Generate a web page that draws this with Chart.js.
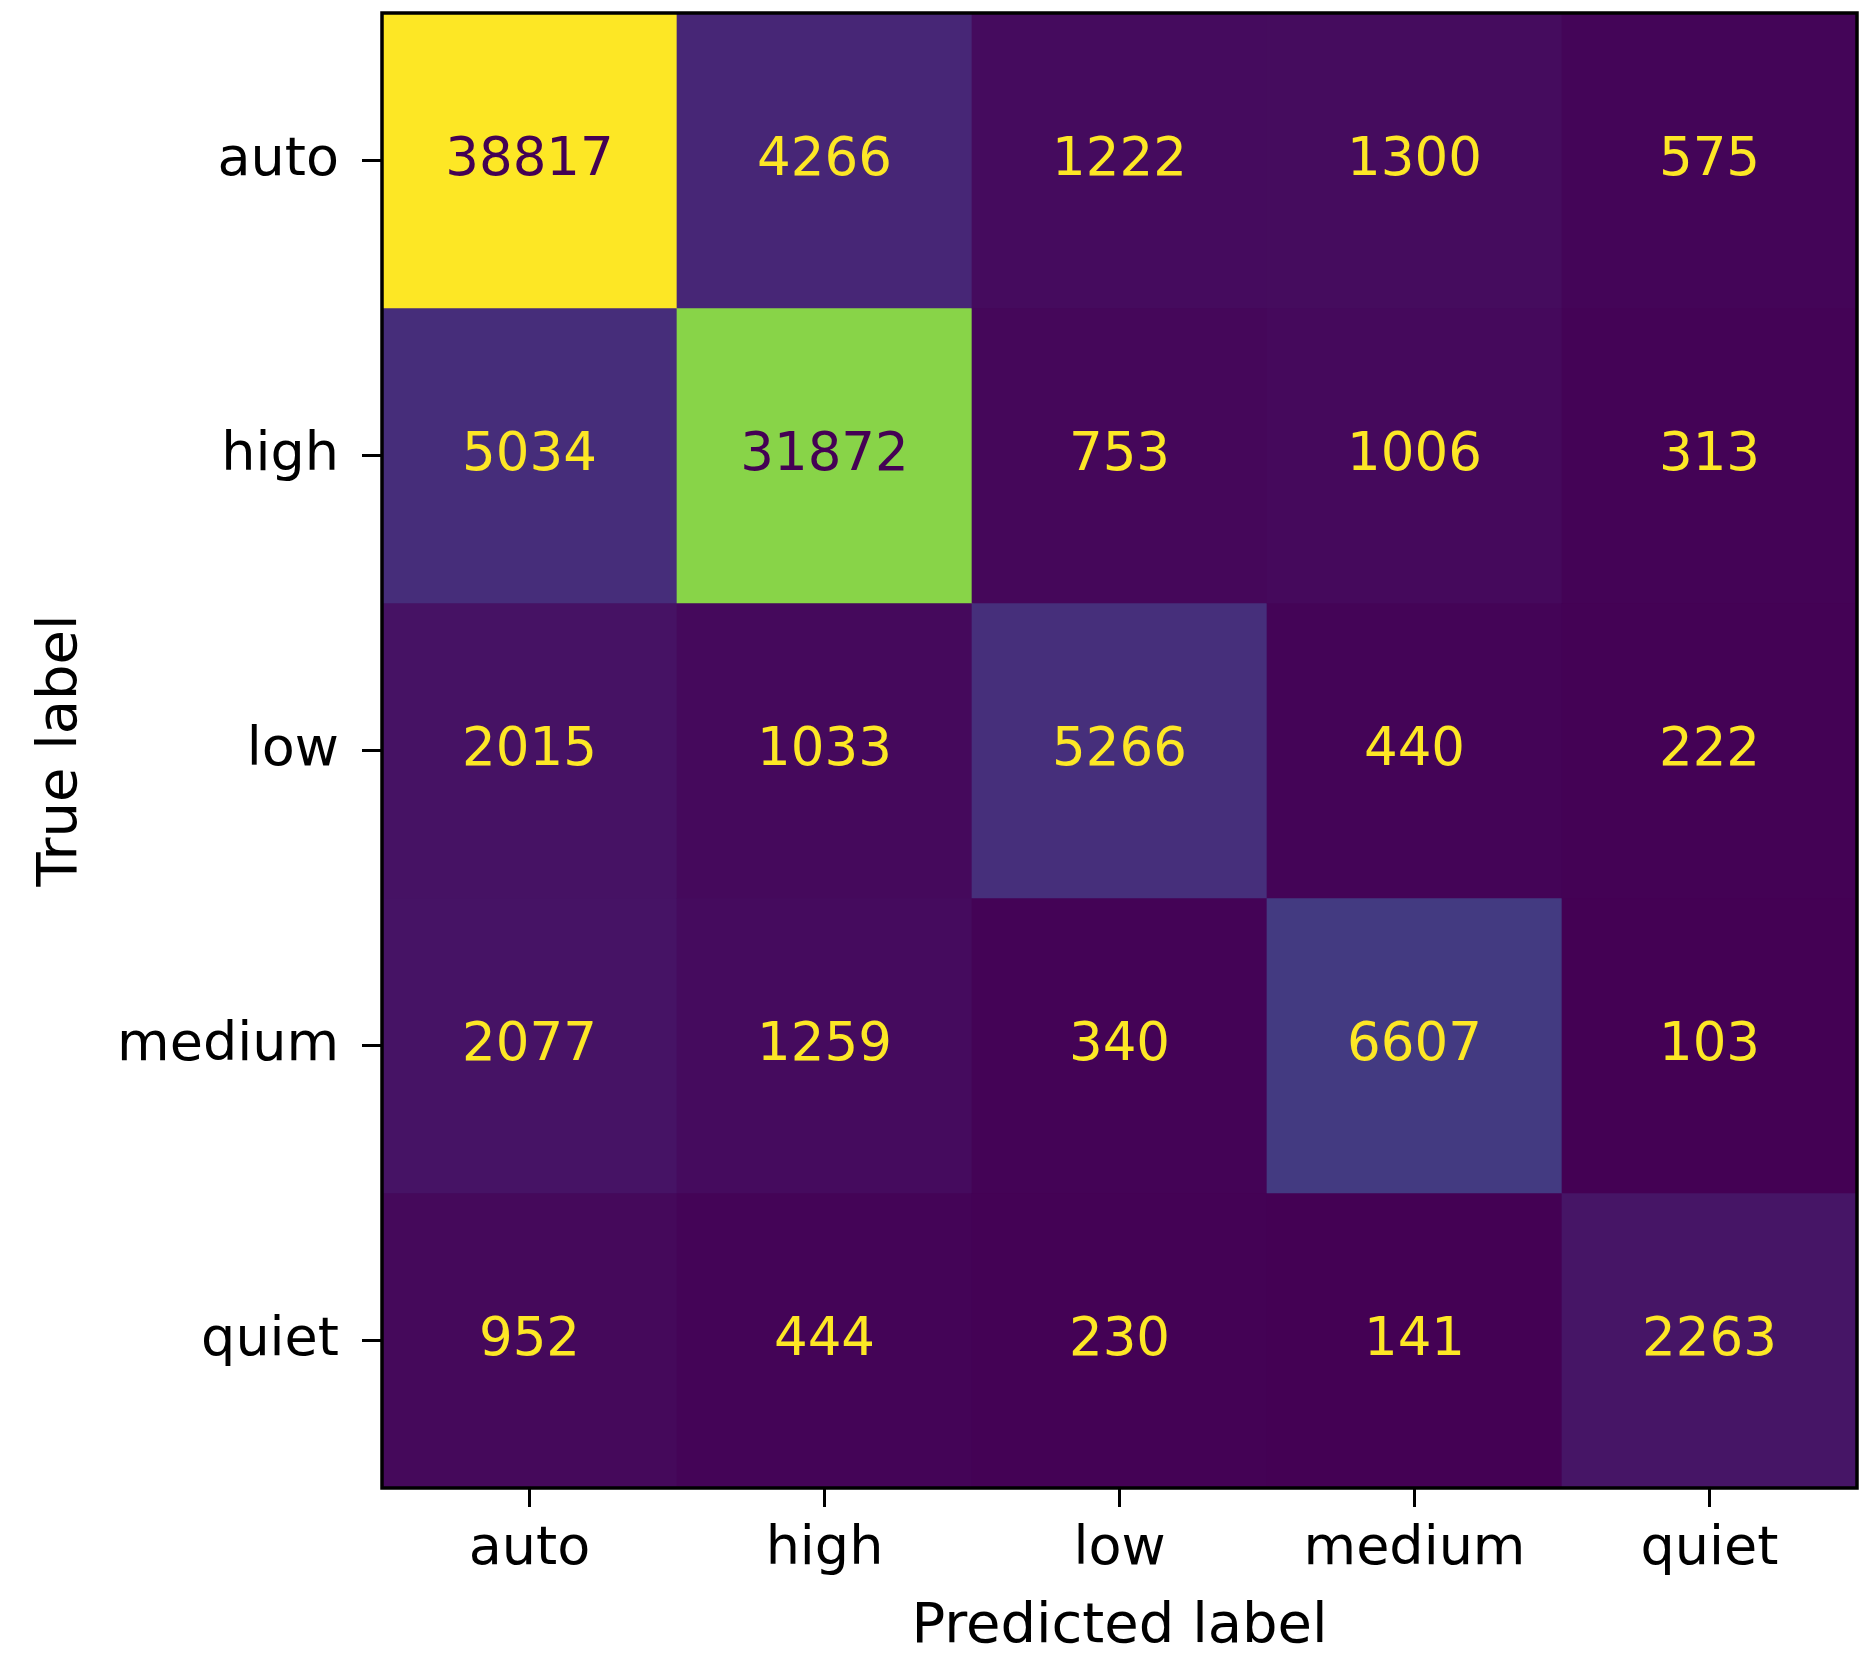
<!DOCTYPE html>
<html>
<head>
<meta charset="utf-8">
<title>Confusion matrix</title>
<script src="https://cdn.jsdelivr.net/npm/chart.js@4.4.1/dist/chart.umd.min.js"></script>
<style>
  html, body { margin: 0; padding: 0; background: #ffffff; }
  canvas { display: block; }
</style>
</head>
<body>
<canvas id="cm" width="1868" height="1654"></canvas>
<script>
// Class names along each axis
const predictedLabels = ['auto', 'high', 'low', 'medium', 'quiet'];
const trueLabels = ['auto', 'high', 'low', 'medium', 'quiet'];

// Counts, one array per true label (columns follow predictedLabels)
const rowAuto   = [38817, 4266, 1222, 1300, 575];
const rowHigh   = [5034, 31872, 753, 1006, 313];
const rowLow    = [2015, 1033, 5266, 440, 222];
const rowMedium = [2077, 1259, 340, 6607, 103];
const rowQuiet  = [952, 444, 230, 141, 2263];
const counts = [rowAuto, rowHigh, rowLow, rowMedium, rowQuiet];

// Viridis colour map, sampled at eleven evenly spaced stops
const VIRIDIS_STOPS = [
  [68, 1, 84], [72, 36, 117], [65, 68, 135], [53, 95, 141], [42, 120, 142],
  [33, 145, 140], [34, 168, 132], [68, 191, 112], [122, 209, 81], [189, 223, 38],
  [253, 231, 37]
];
function viridis(t) {
  t = Math.min(1, Math.max(0, t));
  const pos = t * (VIRIDIS_STOPS.length - 1);
  const i = Math.min(Math.floor(pos), VIRIDIS_STOPS.length - 2);
  const f = pos - i;
  const a = VIRIDIS_STOPS[i], b = VIRIDIS_STOPS[i + 1];
  const c = a.map((v, k) => Math.round(v + (b[k] - v) * f));
  return `rgb(${c[0]}, ${c[1]}, ${c[2]})`;
}

const allValues = counts.flat();
const vMin = Math.min(...allValues);
const vMax = Math.max(...allValues);
const norm = v => (v - vMin) / (vMax - vMin);
const textThreshold = (vMax + vMin) / 2;
const darkText = viridis(0);
const lightText = viridis(1);

const FONT = "'DejaVu Sans', sans-serif";
const CELL_SIZE = 53;
const TICK_SIZE = 54;
const TITLE_SIZE = 56;

// One floating-bar dataset per true label: each bar spans its row on the y scale
const datasets = trueLabels.map((name, r) => ({
  label: name,
  data: predictedLabels.map(() => [r - 0.5, r + 0.5]),
  backgroundColor: counts[r].map(v => viridis(norm(v))),
  borderWidth: 0,
  grouped: false,
  barPercentage: 1,
  categoryPercentage: 1
}));

// Writes each count in the middle of its cell
const cellText = {
  id: 'cellText',
  afterDatasetsDraw(chart) {
    const ctx = chart.ctx;
    ctx.save();
    ctx.font = `${CELL_SIZE}px ${FONT}`;
    ctx.textAlign = 'center';
    ctx.textBaseline = 'middle';
    chart.data.datasets.forEach((ds, r) => {
      chart.getDatasetMeta(r).data.forEach((bar, c) => {
        const v = counts[r][c];
        const p = bar.getProps(['x', 'y', 'base'], true);
        ctx.fillStyle = v > textThreshold ? darkText : lightText;
        ctx.fillText(String(v), p.x, (p.y + p.base) / 2 + 1);
      });
    });
    ctx.restore();
  }
};

// Black frame round the plotting area
const frame = {
  id: 'frame',
  afterDraw(chart) {
    const a = chart.chartArea;
    const ctx = chart.ctx;
    ctx.save();
    ctx.strokeStyle = '#000000';
    ctx.lineWidth = 3.5;
    ctx.strokeRect(a.left, a.top, a.right - a.left, a.bottom - a.top);
    ctx.restore();
  }
};

Chart.defaults.font.family = FONT;
Chart.defaults.color = '#000000';

new Chart(document.getElementById('cm'), {
  type: 'bar',
  data: { labels: predictedLabels, datasets },
  options: {
    responsive: false,
    animation: false,
    devicePixelRatio: 1,
    layout: { padding: { top: 13, right: 11, left: 0, bottom: 0 } },
    plugins: { legend: { display: false }, tooltip: { enabled: false } },
    scales: {
      x: {
        type: 'category',
        offset: true,
        grid: {
          offset: false,
          drawOnChartArea: false,
          drawTicks: true,
          tickLength: 19,
          tickWidth: 3,
          tickColor: '#000000'
        },
        border: { display: false },
        ticks: { padding: 11, font: { size: TICK_SIZE }, color: '#000000', maxRotation: 0 },
        title: {
          display: true,
          text: 'Predicted label',
          font: { size: TITLE_SIZE, lineHeight: 0.9 },
          color: '#000000',
          padding: { top: 0, bottom: 1 }
        },
        afterFit(scale) {
          scale.height = 166;
          scale.paddingLeft = 0;
          scale.paddingRight = 0;
        }
      },
      y: {
        type: 'linear',
        min: -0.5,
        max: 4.5,
        reverse: true,
        afterBuildTicks(scale) {
          scale.ticks = trueLabels.map((_, i) => ({ value: i }));
        },
        grid: {
          drawOnChartArea: false,
          drawTicks: true,
          tickLength: 20,
          tickWidth: 3,
          tickColor: '#000000'
        },
        border: { display: false },
        ticks: {
          padding: 23,
          font: { size: TICK_SIZE },
          color: '#000000',
          callback: value => trueLabels[value]
        },
        title: {
          display: true,
          text: 'True label',
          font: { size: TITLE_SIZE, lineHeight: 0.9 },
          color: '#000000',
          padding: { top: 36, bottom: 0 }
        },
        afterFit(scale) {
          scale.width = 382;
          scale.paddingTop = 0;
          scale.paddingBottom = 0;
        }
      }
    }
  },
  plugins: [cellText, frame]
});
</script>
</body>
</html>
